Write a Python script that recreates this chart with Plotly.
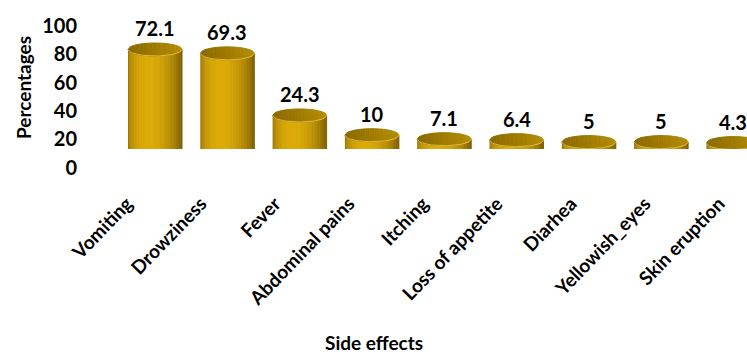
import numpy as np
import plotly.graph_objects as go

# ---------------- data ----------------
categories = ["Vomiting", "Drowziness", "Fever", "Abdominal pains", "Itching",
              "Loss of appetite", "Diarhea", "Yellowish_eyes", "Skin eruption"]
values = [72.1, 69.3, 24.3, 10, 7.1, 6.4, 5, 5, 4.3]
y_ticks = [0, 20, 40, 60, 80, 100]
x_title = "Side effects"
y_title = "Percentages"

# ---------------- geometry (pixels) ----------------
W, H = 747, 357
cyl_x0, cyl_step = 155.0, 72.3      # cylinder centres
cyl_base, cyl_k = 149.0, 1.38       # pixel row of value 0, px per unit
rx_px, ry_px = 27.0, 6.5            # ellipse half axes
lab_x0, lab_step = 127.0, 74.0      # category label anchor positions
ytk_zero, ytk_hundred = 167.5, 26.0 # tick label rows

def fx(px):
    return px / W

def fy(py):
    return 1 - py / H

x2_left = cyl_x0 - cyl_step / 2
x2_range = [-0.5, -0.5 + (W - x2_left) / cyl_step]
y2_range = [0, cyl_base / cyl_k]
x1_left = lab_x0 - lab_step / 2
x1_range = [-0.5, -0.5 + (W - x1_left) / lab_step]

rx = rx_px / cyl_step
ry = ry_px / cyl_k

dark = np.array([0x80, 0x60, 0x00])
bright = np.array([0xDC, 0xAA, 0x05])

def shade(t):
    theta = np.arcsin(np.clip(t, -1, 1))
    s = max(0.0, np.cos(theta + 0.25)) ** 1.3
    c = dark + (bright - dark) * s
    return "rgb(%d,%d,%d)" % tuple(c.astype(int))

fig = go.Figure()

# body strips
N = 44
edges = np.linspace(-1, 1, N + 1)
for j in range(N):
    t0, t1 = edges[j], edges[j + 1]
    xs, ys = [], []
    for i, v in enumerate(values):
        ts = np.linspace(t1, t0, 4)
        px = [i + rx * t0, i + rx * t1] + [i + rx * t for t in ts]
        py = [v, v] + [-ry * np.sqrt(max(0, 1 - t * t)) for t in ts]
        xs += px + [None]
        ys += py + [None]
    col = shade((t0 + t1) / 2)
    fig.add_trace(go.Scatter(x=xs, y=ys, xaxis="x2", yaxis="y2", mode="lines",
                             fill="toself", fillcolor=col,
                             line=dict(color=col, width=1),
                             hoverinfo="skip", showlegend=False))

# top ellipses (shaded slices)
M = 24
edges = np.linspace(-1, 1, M + 1)
top_dark = np.array([0x8A, 0x69, 0x00])
top_light = np.array([0xB5, 0x8D, 0x02])
for j in range(M):
    t0, t1 = edges[j], edges[j + 1]
    xs, ys = [], []
    for i, v in enumerate(values):
        ts_up = np.linspace(t0, t1, 3)
        ts_dn = np.linspace(t1, t0, 3)
        px = [i + rx * t for t in ts_up] + [i + rx * t for t in ts_dn]
        py = [v + ry * np.sqrt(max(0, 1 - t * t)) for t in ts_up] + \
             [v - ry * np.sqrt(max(0, 1 - t * t)) for t in ts_dn]
        xs += px + [None]
        ys += py + [None]
    f = ((t0 + t1) / 2 + 1) / 2
    c = top_dark + (top_light - top_dark) * f
    col = "rgb(%d,%d,%d)" % tuple(c.astype(int))
    fig.add_trace(go.Scatter(x=xs, y=ys, xaxis="x2", yaxis="y2", mode="lines",
                             fill="toself", fillcolor=col,
                             line=dict(color=col, width=1),
                             hoverinfo="skip", showlegend=False))

# light rim along the front edge of each top ellipse
rim_x, rim_y = [], []
for i, v in enumerate(values):
    ts = np.linspace(-1, 1, 25)
    rim_x += [i + rx * t for t in ts] + [None]
    rim_y += [v - ry * np.sqrt(max(0, 1 - t * t)) for t in ts] + [None]
fig.add_trace(go.Scatter(x=rim_x, y=rim_y, xaxis="x2", yaxis="y2", mode="lines",
                         line=dict(color="rgba(235,200,80,0.8)", width=1),
                         hoverinfo="skip", showlegend=False))

font_b = dict(family="Lato", color="black", weight="bold")

annotations = []
for i, v in enumerate(values):
    annotations.append(dict(x=i, y=v + ry, xref="x2", yref="y2",
                            text=f"{v:g}", showarrow=False, yanchor="bottom",
                            xanchor="center", yshift=1,
                            font=dict(size=20, **font_b)))

annotations.append(dict(x=fx(23), y=fy(88), xref="paper", yref="paper",
                        text=y_title, textangle=-90, showarrow=False,
                        xanchor="center", yanchor="middle",
                        font=dict(size=19, **font_b)))
annotations.append(dict(x=fx(374), y=fy(342), xref="paper", yref="paper",
                        text=x_title, showarrow=False,
                        xanchor="center", yanchor="middle", borderpad=0,
                        font=dict(size=19, **font_b)))

fig.add_trace(go.Scatter(x=[0], y=[0], xaxis="x", yaxis="y", mode="markers",
                         marker=dict(opacity=0), hoverinfo="skip",
                         showlegend=False))

fig.update_layout(
    width=W, height=H,
    margin=dict(l=0, r=0, t=0, b=0, autoexpand=False),
    paper_bgcolor="white", plot_bgcolor="rgba(0,0,0,0)",
    showlegend=False,
    annotations=annotations,
    xaxis=dict(domain=[fx(x1_left), 1], range=x1_range,
               tickvals=list(range(len(categories))), ticktext=categories,
               tickangle=-46, showgrid=False, zeroline=False, showline=False,
               ticks="", anchor="free", position=fy(188), automargin=False,
               tickfont=dict(size=19, **font_b)),
    yaxis=dict(domain=[fy(ytk_zero), fy(ytk_hundred)], range=[0, 100],
               tickvals=y_ticks, showgrid=False, zeroline=False,
               showline=False, ticks="", anchor="free", position=fx(77),
               automargin=False, tickfont=dict(size=20, **font_b)),
    xaxis2=dict(domain=[fx(x2_left), 1], range=x2_range, visible=False,
                anchor="y2", automargin=False),
    yaxis2=dict(domain=[fy(cyl_base), 1], range=y2_range, visible=False,
                anchor="x2", automargin=False),
)

fig.write_html("out.html")
